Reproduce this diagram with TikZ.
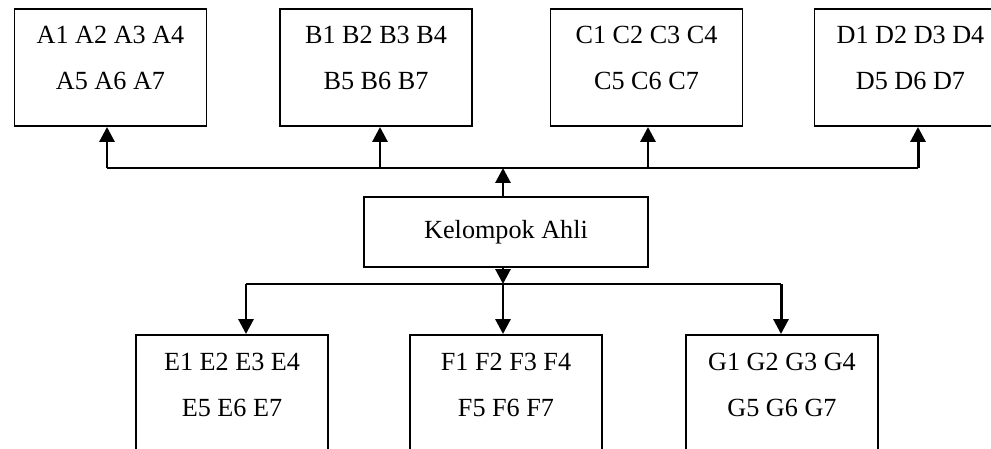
\documentclass[tikz,border=0pt]{standalone}
\usepackage{fontspec}
\setmainfont{Liberation Serif}
\usetikzlibrary{arrows.meta}

\tikzset{
  grp/.style={draw,line width=1.1pt,minimum width=3.84cm,minimum height=2.34cm,inner sep=0pt},
  ahli/.style={draw,line width=1.1pt,minimum width=5.68cm,minimum height=1.40cm,inner sep=0pt},
  txt/.style={align=center,inner sep=0pt,font={\fontsize{14.9}{26.6}\selectfont}},
  arr/.style={line width=1.7pt,-{Triangle[length=0.30cm,width=0.30cm]}},
  bar/.style={line width=1.1pt}
}

\begin{document}
\begin{tikzpicture}[x=0.02cm,y=-0.02cm]
\clip (0,0) rectangle (991,449);
% kelompok asal atas
\node[grp] (A) at (110.5,67.5) {};
\node[txt] at (110.5,58) {A1 A2 A3 A4\\A5 A6 A7};
\node[grp] (B) at (376,67.5) {};
\node[txt] at (376,58) {B1 B2 B3 B4\\B5 B6 B7};
\node[grp] (C) at (646.5,67.5) {};
\node[txt] at (646.5,58) {C1 C2 C3 C4\\C5 C6 C7};
\node[grp] (D) at (910.5,67.5) {};
\node[txt] at (910.5,58) {D1 D2 D3 D4\\D5 D6 D7};
% kelompok ahli
\node[ahli] (K) at (506,232) {};
\node[txt] at (506,232) {Kelompok Ahli};
% kelompok asal bawah
\node[grp] (E) at (232,393.5) {};
\node[txt] at (232,385) {E1 E2 E3 E4\\E5 E6 E7};
\node[grp] (F) at (506,393.5) {};
\node[txt] at (506,385) {F1 F2 F3 F4\\F5 F6 F7};
\node[grp] (G) at (782,393.5) {};
\node[txt] at (782,385) {G1 G2 G3 G4\\G5 G6 G7};
% garis atas
\coordinate (ta) at (107,168);
\coordinate (tb) at (380,168);
\coordinate (tk) at (503,168);
\coordinate (tc) at (648,168);
\coordinate (td) at (918,168);
\draw[bar] (ta) -- (td);
\draw[arr] (K.north -| tk) -- (tk);
\draw[arr] (ta) -- (ta |- A.south);
\draw[arr] (tb) -- (tb |- B.south);
\draw[arr] (tc) -- (tc |- C.south);
\draw[arr] (td) -- (td |- D.south);
% garis bawah
\coordinate (be) at (246,284);
\coordinate (bf) at (503,284);
\coordinate (bg) at (781,284);
\draw[bar] (be) -- (bg);
\draw[arr] (K.south -| bf) -- (bf);
\draw[arr] (be) -- (be |- E.north);
\draw[arr] (bf) -- (bf |- F.north);
\draw[arr] (bg) -- (bg |- G.north);
\end{tikzpicture}
\end{document}
